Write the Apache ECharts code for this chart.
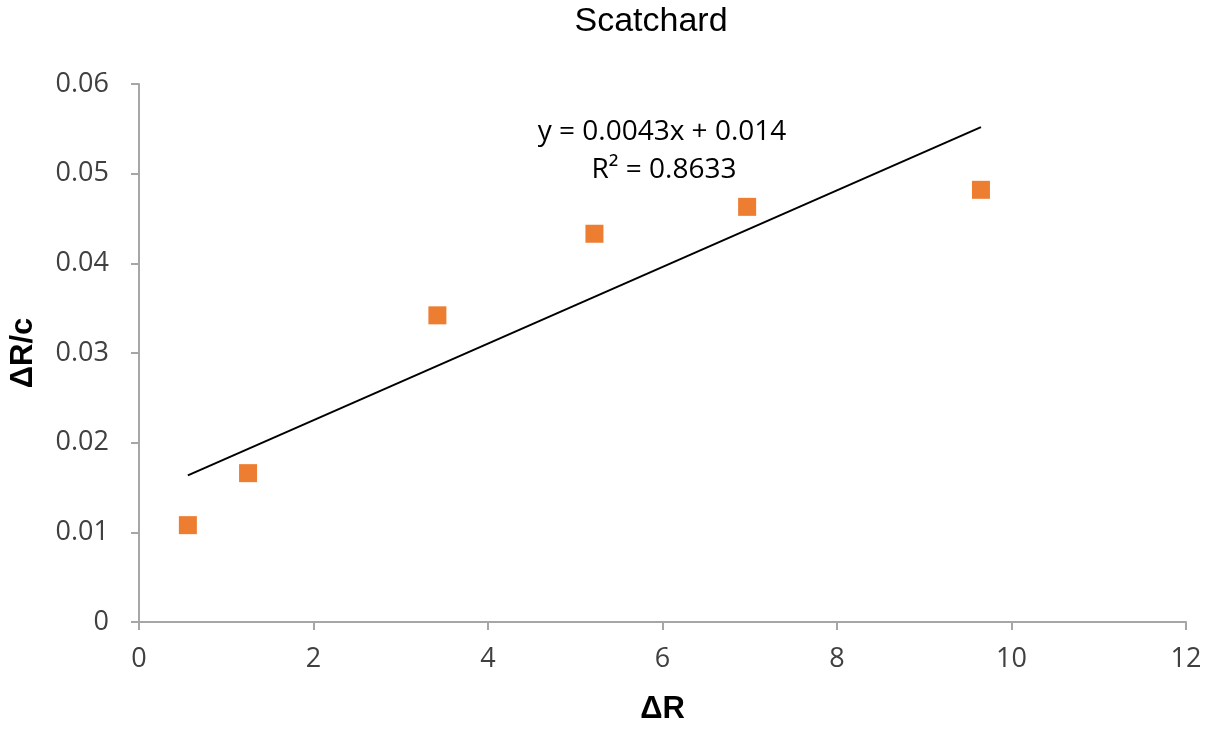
<!DOCTYPE html>
<html>
<head>
<meta charset="utf-8">
<script src="https://cdn.jsdelivr.net/npm/echarts@6/dist/echarts.min.js"></script>
<style>html,body{margin:0;padding:0;background:#fff}#c{width:1215px;height:730px}</style>
</head>
<body>
<div id="c"></div>
<script>
const xValues = [0.56, 1.25, 3.42, 5.22, 6.97, 9.65];
const yValues = [0.0108, 0.0166, 0.0342, 0.0433, 0.0463, 0.0482];
const equationText = 'y = 0.0043x + 0.014';
const r2Text = 'R\u00B2 = 0.8633';

// least-squares trendline from the data
const n = xValues.length;
const mx = xValues.reduce((a,b)=>a+b,0)/n;
const my = yValues.reduce((a,b)=>a+b,0)/n;
let sxy = 0, sxx = 0;
for (let i=0;i<n;i++){ sxy += (xValues[i]-mx)*(yValues[i]-my); sxx += (xValues[i]-mx)**2; }
const slope = sxy/sxx, intercept = my - slope*mx;
const xMin = Math.min(...xValues), xMax = Math.max(...xValues);
const trend = [[xMin, slope*xMin+intercept],[xMax, slope*xMax+intercept]];

const chart = echarts.init(document.getElementById('c'));
const axisCol = '#a6a6a6';
const labelFont = {color:'#404040', fontSize:27, fontFamily:'Open Sans, Liberation Sans, sans-serif'};
const nameFont = {fontSize:31, fontWeight:'bold', color:'#000', fontFamily:'Liberation Sans, Arial, sans-serif'};
chart.setOption({
  backgroundColor:'#fff',
  animation:false,
  title:{text:'Scatchard', left:646, top:0, textAlign:'center',
    textStyle:{fontSize:34, fontWeight:'normal', color:'#000', fontFamily:'Liberation Sans, Arial, sans-serif'}},
  grid:{left:136, right:29, top:84, bottom:108},
  xAxis:{type:'value', min:0, max:12, interval:2,
    name:'\u0394R', nameLocation:'middle', nameGap:72,
    nameTextStyle:nameFont,
    axisLine:{lineStyle:{color:axisCol, width:2}},
    axisTick:{show:true, length:8, inside:false, lineStyle:{color:axisCol, width:2}},
    axisLabel:Object.assign({margin:24}, labelFont),
    splitLine:{show:false}},
  yAxis:{type:'value', min:0, max:0.06, interval:0.01,
    name:'\u0394R/c', nameLocation:'middle', nameGap:100, nameRotate:90,
    nameTextStyle:nameFont,
    axisLine:{show:true, lineStyle:{color:axisCol, width:2}},
    axisTick:{show:true, length:8, inside:false, lineStyle:{color:axisCol, width:2}},
    axisLabel:Object.assign({margin:30, formatter:v=>v===0?'0':v.toFixed(2)}, labelFont),
    splitLine:{show:false}},
  series:[
    {type:'line', data:trend, symbol:'none', silent:true,
     lineStyle:{color:'#000', width:2}, z:2},
    {type:'scatter', data:xValues.map((x,i)=>[x,yValues[i]]), symbol:'rect', symbolSize:18,
     itemStyle:{color:'#ED7D31', opacity:1}, z:3}
  ],
  graphic:[
    {type:'text', x:662, y:132, style:{text:equationText, fill:'#000', fontSize:28, fontFamily:'Open Sans, Liberation Sans, sans-serif', align:'center', verticalAlign:'middle'}},
    {type:'text', x:664, y:170, style:{text:r2Text, fill:'#000', fontSize:28, fontFamily:'Open Sans, Liberation Sans, sans-serif', align:'center', verticalAlign:'middle'}}
  ]
});
</script>
</body>
</html>
